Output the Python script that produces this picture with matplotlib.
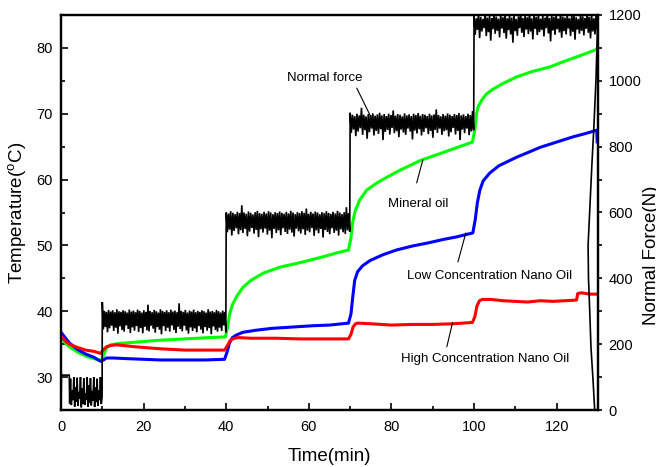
import numpy as np
import matplotlib
matplotlib.use("Agg")
import matplotlib.pyplot as plt
from matplotlib.ticker import MultipleLocator

plt.rcParams['font.family'] = ['Liberation Sans', 'DejaVu Sans']
plt.rcParams['mathtext.default'] = 'regular'

# ---------------- temperature readings (time in min, temperature in degC) ----------------
mineral_t = [0, 1, 2, 4, 6, 8, 9.7, 10.3, 11, 12, 14, 18, 24, 30, 36, 39.8,
             40.3, 40.8, 41.5, 42.5, 44, 46, 49, 53, 58, 63, 67, 69.6,
             70.2, 70.6, 71.2, 72.3, 74, 76.5, 79, 82, 87, 92, 96, 99.6,
             100.2, 100.6, 101, 102, 103, 104.5, 107, 110.3, 114, 118.3, 122, 126, 129.8]
mineral_T = [36.0, 35.2, 34.6, 33.8, 33.2, 32.8, 32.5, 33.3, 34.4, 34.9, 35.1, 35.3, 35.6, 35.8, 36.0, 36.1,
             37.5, 39.5, 41.0, 42.2, 43.6, 44.7, 45.8, 46.7, 47.4, 48.2, 48.9, 49.3,
             51.2, 53.5, 55.2, 56.9, 58.4, 59.5, 60.4, 61.4, 62.9, 64.0, 64.9, 65.7,
             67.6, 70.0, 71.1, 72.2, 73.0, 73.7, 74.6, 75.6, 76.4, 77.1, 78.0, 78.9, 79.8]

low_t = [0, 1, 2, 4, 6, 8, 9.6, 10.3, 11, 12.6, 16, 20, 24, 30, 35, 39.6,
         40.2, 40.8, 41.5, 42.5, 44, 47, 51, 56, 61, 65, 69.6,
         70.2, 70.6, 71.1, 71.8, 73, 74.8, 78, 81.2, 85, 89, 92.5, 95.8, 99.7,
         100.3, 100.8, 101.4, 102.2, 103.8, 106, 110.3, 113, 116, 120, 124, 127, 129.7, 129.8]
low_T = [36.8, 36.0, 35.2, 34.2, 33.5, 33.0, 32.4, 32.6, 32.9, 32.9, 32.8, 32.7, 32.6, 32.6, 32.6, 32.7,
         33.8, 35.2, 36.0, 36.4, 36.8, 37.1, 37.4, 37.6, 37.8, 37.9, 38.2,
         39.6, 42.0, 44.7, 46.0, 46.9, 47.7, 48.6, 49.3, 49.9, 50.4, 50.9, 51.3, 51.9,
         54.0, 56.5, 58.4, 59.8, 61.0, 62.1, 63.4, 64.1, 64.9, 65.7, 66.5, 67.0, 67.5, 65.5]

high_t = [0, 1, 2, 4, 6, 8, 9.6, 10.3, 11, 12, 13.5, 18, 24, 30, 35, 39.6,
          40.3, 41, 42, 43, 46, 52, 58, 64, 69.6,
          70.2, 70.7, 71.3, 72, 75, 80, 85, 90, 95, 99.6,
          100.2, 100.7, 101.3, 102, 104, 107, 110, 113, 116, 119, 122, 124.8, 125.1, 126, 128, 130]
high_T = [36.2, 35.5, 35.0, 34.5, 34.1, 33.9, 33.6, 34.2, 34.6, 34.8, 34.9, 34.6, 34.3, 34.1, 34.1, 34.1,
          34.8, 35.6, 35.9, 36.0, 35.9, 35.9, 35.8, 35.8, 35.8,
          36.5, 37.6, 38.1, 38.2, 38.1, 37.9, 38.0, 38.0, 38.1, 38.3,
          39.2, 40.8, 41.6, 41.8, 41.8, 41.6, 41.5, 41.4, 41.6, 41.5, 41.6, 41.7, 42.7, 42.8, 42.6, 42.6]

# ---------------- normal force readings (N) ----------------
# start-up: loader pressed, then the idle chatter before the first load step
force_start_t = [0.0, 0.1, 2.0]
force_start = [0, 106, 106]
force_idle = [20, 95, 15, 60, 30, 100, 10, 70, 25, 98, 12, 55, 35, 100, 8, 65, 20, 96, 15, 50,
              30, 100, 10, 75, 22, 97, 14, 58, 28, 100, 9, 68, 24, 95, 12, 60, 30, 100, 18, 40]
# load steps: 300 N, 600 N, 900 N, 1200 N
force_300 = [328, 245, 301, 252, 298, 236, 304, 248, 299, 256, 303, 240, 297, 250, 306, 232, 300, 254, 298, 243,
             303, 238, 300, 257, 296, 246, 305, 234, 299, 251, 302, 241, 297, 255, 305, 237, 301, 249, 296, 233,
             303, 253, 298, 242, 320, 239, 301, 256, 297, 247, 304, 235, 300, 252, 296, 244, 306, 230, 301, 255,
             298, 240, 303, 250, 297, 238, 305, 257, 299, 243, 302, 234, 297, 253, 324, 246, 301, 239, 298, 256,
             304, 242, 296, 232, 302, 251, 299, 240, 305, 248, 297, 236, 301, 255, 298, 244, 303, 233, 300, 252,
             296, 241, 306, 249, 299, 230, 301, 254, 297, 243, 304, 238, 300, 250, 296, 240, 302, 257, 298, 236]
force_600 = [600, 540, 597, 548, 604, 530, 599, 544, 595, 552, 602, 534, 598, 546, 622, 538, 600, 550, 596, 528,
             603, 542, 599, 553, 594, 536, 601, 547, 605, 525, 598, 549, 596, 539, 602, 551, 597, 533, 604, 545,
             600, 522, 595, 550, 601, 538, 598, 546, 603, 531, 599, 552, 596, 541, 602, 535, 597, 548, 605, 539,
             600, 527, 595, 551, 601, 543, 598, 536, 604, 549, 599, 532, 612, 545, 596, 540, 602, 553, 597, 529,
             603, 546, 600, 537, 595, 550, 601, 524, 598, 547, 604, 541, 599, 534, 596, 552, 602, 538, 597, 545,
             605, 530, 600, 549, 595, 540, 601, 535, 616, 546, 598, 542]
force_900 = [903, 842, 897, 852, 893, 832, 900, 846, 895, 856, 918, 836, 897, 850, 892, 824, 899, 844, 896, 855,
             901, 834, 894, 848, 898, 839, 903, 853, 895, 820, 899, 845, 893, 851, 900, 837, 896, 857, 910, 841,
             894, 847, 899, 829, 897, 852, 892, 843, 901, 836, 895, 855, 898, 846, 893, 822, 900, 849, 896, 840,
             902, 853, 894, 834, 899, 845, 897, 856, 893, 838, 900, 848, 895, 827, 898, 851, 913, 842, 896, 855,
             892, 836, 899, 847, 894, 850, 901, 831, 897, 844, 893, 857, 899, 837, 896, 848, 902, 820, 895, 852,
             898, 841, 893, 855, 900, 835, 896, 846, 908, 850]
force_1200 = [1198, 1140, 1190, 1155, 1203, 1130, 1194, 1150, 1188, 1160, 1208, 1136, 1192, 1148, 1197, 1122,
              1191, 1157, 1205, 1143, 1195, 1152, 1189, 1132, 1200, 1159, 1193, 1145, 1208, 1128, 1190, 1154,
              1198, 1141, 1192, 1116, 1201, 1151, 1188, 1137, 1196, 1160, 1206, 1146, 1191, 1133, 1199, 1156,
              1193, 1142, 1208, 1150, 1190, 1126, 1197, 1158, 1194, 1139, 1202, 1148, 1189, 1155, 1198, 1135,
              1192, 1160, 1207, 1144, 1191, 1120, 1199, 1153, 1194, 1140, 1201, 1157, 1189, 1147, 1208, 1131,
              1195, 1151, 1192, 1141, 1200, 1159, 1190, 1136, 1197, 1149, 1204, 1125, 1193, 1156, 1188, 1143,
              1202, 1152, 1196, 1138, 1191, 1158, 1208, 1146, 1194, 1129, 1199, 1150, 1190, 1141, 1201, 1154]
# unloading at the end of the run
force_unload_t = [129.85, 129.5, 129.0, 128.5, 128.0, 127.6, 127.7, 128.0, 128.3, 128.8, 129.2]
force_unload = [1150, 1000, 860, 740, 610, 500, 400, 300, 190, 90, 0]

# step windows (min) over which each block of force samples was logged
step_windows = [(2.1, 9.95), (10.0, 39.9), (40.0, 69.9), (70.0, 99.9), (100.0, 129.8)]
step_blocks = [force_idle, force_300, force_600, force_900, force_1200]

force_t = list(force_start_t)
force_N = list(force_start)
for (t0, t1), block in zip(step_windows, step_blocks):
    force_t += list(np.linspace(t0, t1, len(block)))
    force_N += list(block)
force_t += force_unload_t
force_N += force_unload

# ---------------- figure ----------------
fig = plt.figure(figsize=(6.56, 4.67), dpi=100)
ax = fig.add_axes([61 / 656, 57 / 467, 537 / 656, 395 / 467])
ax2 = ax.twinx()

ax.plot(mineral_t, mineral_T, color='#00ff00', lw=2.2, solid_capstyle='butt', zorder=3)
ax.plot(low_t, low_T, color='#0000ff', lw=2.2, solid_capstyle='butt', zorder=3)
ax.plot(high_t, high_T, color='#ff0000', lw=2.2, solid_capstyle='butt', zorder=3)
ax2.plot(force_t, force_N, color='black', lw=1.2, solid_joinstyle='miter')

ax.set_xlim(0, 130)
ax.set_ylim(25, 85)
ax2.set_ylim(0, 1200)

ax.xaxis.set_major_locator(MultipleLocator(20))
ax.xaxis.set_minor_locator(MultipleLocator(10))
ax.yaxis.set_major_locator(MultipleLocator(10))
ax.yaxis.set_minor_locator(MultipleLocator(5))
ax2.yaxis.set_major_locator(MultipleLocator(200))
ax2.yaxis.set_minor_locator(MultipleLocator(100))

for a in (ax, ax2):
    for s in a.spines.values():
        s.set_linewidth(1.6)

ax.tick_params(axis='both', which='both', direction='in', top=False, right=False,
               labelsize=10.5, width=1.2)
ax.tick_params(axis='x', which='both', pad=7.5)
ax.tick_params(axis='y', which='both', pad=6)
ax.tick_params(axis='both', which='major', length=5)
ax.tick_params(axis='both', which='minor', length=3)
ax2.tick_params(axis='y', which='both', direction='out', labelsize=10.5, width=1.2, pad=4.5)
ax2.tick_params(axis='y', which='major', length=3)
ax2.tick_params(axis='y', which='minor', length=3)

ax.set_xlabel('Time(min)', fontsize=13.5, labelpad=10)
ax.set_ylabel(r'Temperature($^o$C)', fontsize=13.5, labelpad=6)
fig.text(652 / 656, 212 / 467, 'Normal Force(N)', rotation=90, fontsize=13.5,
         ha='center', va='center')

# curve labels with leader lines
lead = dict(arrowstyle='-', lw=0.8, color='black', shrinkA=0, shrinkB=0)
ax.text(63.8, 75.0, 'Normal force', fontsize=9.5, ha='center', va='baseline')
ax.annotate('', xy=(74.8, 69.8), xytext=(71.6, 73.9), arrowprops=lead)
ax.text(86.4, 55.9, 'Mineral oil', fontsize=9.5, ha='center', va='baseline')
ax.annotate('', xy=(87.6, 63.0), xytext=(86.1, 59.5), arrowprops=lead)
ax.text(103.8, 44.9, 'Low Concentration Nano Oil', fontsize=9.5, ha='center', va='baseline')
ax.annotate('', xy=(98.0, 51.9), xytext=(96.1, 47.5), arrowprops=lead)
ax.text(102.6, 32.3, 'High Concentration Nano Oil', fontsize=9.5, ha='center', va='baseline')
ax.annotate('', xy=(94.8, 38.3), xytext=(93.4, 34.6), arrowprops=lead)

fig.savefig('out.png', dpi=100)
